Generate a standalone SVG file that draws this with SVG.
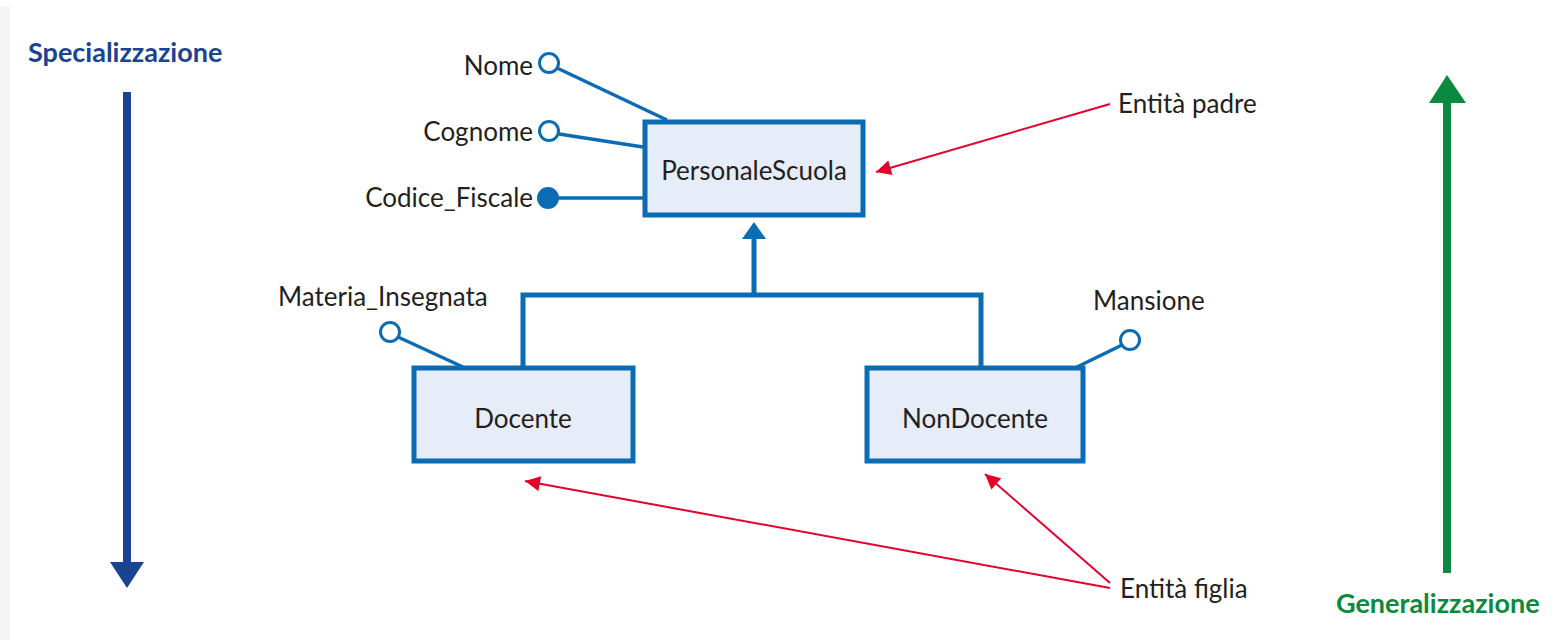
<svg xmlns="http://www.w3.org/2000/svg" width="1567" height="640" viewBox="0 0 1567 640">
  <style>
    .lbl { font-family: Lato, "Open Sans", "Liberation Sans", sans-serif; font-size: 26px; fill: #231f20; }
    .title { font-family: Lato, "Open Sans", "Liberation Sans", sans-serif; font-size: 27px; font-weight: bold; }
    .entity rect { fill: #e6edf8; stroke: #0b6cb3; stroke-width: 5; }
    .attr { stroke: #0b6cb3; stroke-width: 3.5; fill: none; }
    .attr-dot { fill: #ffffff; stroke: #0b6cb3; stroke-width: 3; }
    .attr-key { fill: #0b6cb3; stroke: #0b6cb3; stroke-width: 2; }
    .isa { stroke: #0b6cb3; stroke-width: 5; fill: none; }
    .note { stroke: #e4002b; stroke-width: 2; fill: none; }
  </style>
  <defs>
    <marker id="redHead" viewBox="0 0 10 10" refX="10" refY="5" markerWidth="18" markerHeight="15" markerUnits="userSpaceOnUse" orient="auto">
      <path d="M0,0 L10,5 L0,10 z" fill="#e4002b"/>
    </marker>
  </defs>

  <rect x="0" y="0" width="1567" height="640" fill="#ffffff"/>
  <rect x="0" y="6" width="10" height="634" fill="#f5f5f5"/>

  <!-- Direction of specialization -->
  <g id="specializzazione">
    <text class="title" x="28" y="62" fill="#1a4391">Specializzazione</text>
    <line x1="127" y1="92" x2="127" y2="566" stroke="#1a4391" stroke-width="8"/>
    <polygon points="110,562 144,562 127,588" fill="#1a4391"/>
  </g>

  <!-- Direction of generalization -->
  <g id="generalizzazione">
    <text class="title" x="1336" y="613" fill="#0a8a3e">Generalizzazione</text>
    <line x1="1447" y1="573" x2="1447" y2="100" stroke="#0a8a3e" stroke-width="8"/>
    <polygon points="1429,103 1466,103 1447,75" fill="#0a8a3e"/>
  </g>

  <!-- Connectors: attributes, ISA hierarchy, annotations -->
  <g id="connectors">
    <line class="attr" x1="557" y1="68" x2="667" y2="120"/>
    <line class="attr" x1="559" y1="134" x2="643" y2="147"/>
    <line class="attr" x1="555" y1="198" x2="643" y2="198"/>
    <line class="attr" x1="398" y1="337" x2="463" y2="367"/>
    <line class="attr" x1="1122" y1="345" x2="1077" y2="367"/>

    <polyline class="isa" points="523,368 523,295 981,295 981,368"/>
    <line class="isa" x1="754" y1="295" x2="754" y2="236"/>
    <polygon points="742,239 766,239 754,222" fill="#0b6cb3"/>

    <line class="note" x1="1110" y1="104" x2="876" y2="172" marker-end="url(#redHead)"/>
    <line class="note" x1="1110" y1="588" x2="525" y2="481" marker-end="url(#redHead)"/>
    <line class="note" x1="1110" y1="583" x2="985" y2="474" marker-end="url(#redHead)"/>
  </g>

  <g id="attr-nome">
    <text class="lbl" x="533" y="75" text-anchor="end">Nome</text>
    <circle class="attr-dot" cx="549" cy="63" r="9.5"/>
  </g>
  <g id="attr-cognome">
    <text class="lbl" x="533" y="141" text-anchor="end">Cognome</text>
    <circle class="attr-dot" cx="549" cy="131" r="9.5"/>
  </g>
  <g id="attr-codice-fiscale">
    <text class="lbl" x="533" y="207" text-anchor="end">Codice_Fiscale</text>
    <circle class="attr-key" cx="548" cy="198" r="10"/>
  </g>
  <g id="attr-materia">
    <text class="lbl" x="278" y="306">Materia_Insegnata</text>
    <circle class="attr-dot" cx="390" cy="332" r="9.5"/>
  </g>
  <g id="attr-mansione">
    <text class="lbl" x="1093" y="310">Mansione</text>
    <circle class="attr-dot" cx="1130" cy="340" r="9.5"/>
  </g>

  <g id="personale-scuola" class="entity">
    <rect x="645" y="122" width="218" height="93"/>
    <text class="lbl" x="754" y="180" text-anchor="middle">PersonaleScuola</text>
  </g>
  <g id="docente" class="entity">
    <rect x="414" y="368" width="219" height="93"/>
    <text class="lbl" x="523" y="428" text-anchor="middle">Docente</text>
  </g>
  <g id="non-docente" class="entity">
    <rect x="867" y="368" width="216" height="93"/>
    <text class="lbl" x="975" y="428" text-anchor="middle">NonDocente</text>
  </g>

  <g id="label-padre">
    <text class="lbl" x="1118" y="113">Entità padre</text>
  </g>
  <g id="label-figlia">
    <text class="lbl" x="1120" y="598">Entità figlia</text>
  </g>
</svg>
